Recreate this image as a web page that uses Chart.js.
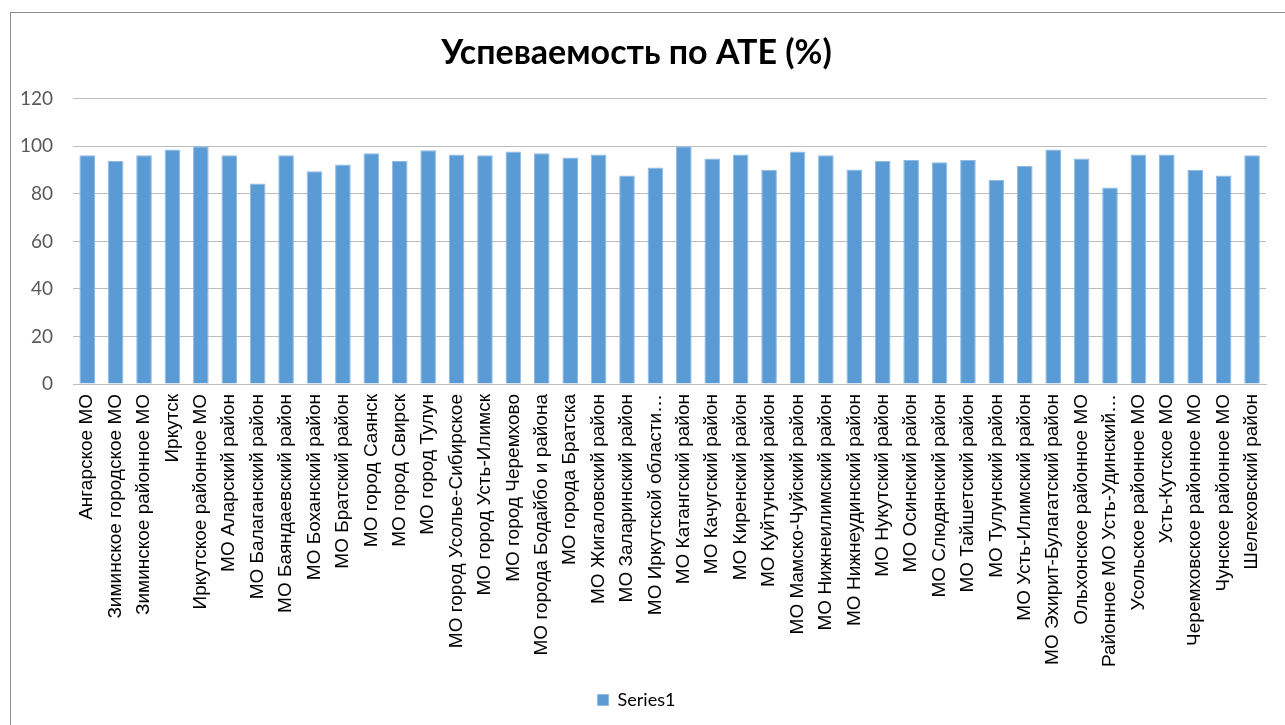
<!DOCTYPE html>
<html>
<head>
<meta charset="utf-8">
<script src="https://cdn.jsdelivr.net/npm/chart.js@4.4.1/dist/chart.umd.min.js"></script>
<style>
  body { margin: 0; background: #fff; }
  #frame { position: absolute; left: 10px; top: 12px; width: 1275px; height: 713px;
           border-top: 1px solid #8c8c8c; border-left: 1px solid #8c8c8c; }
  #chart1 { position: absolute; left: 0; top: 0; }
</style>
</head>
<body>
<div id="frame"></div>
<canvas id="chart1" width="1285" height="725"></canvas>
<script>
var chart1_labels = ['Ангарское МО', 'Зиминское городское МО', 'Зиминское районное МО', 'Иркутск',
  'Иркутское районное МО', 'МО Аларский район', 'МО Балаганский район', 'МО Баяндаевский район',
  'МО Боханский район', 'МО Братский район', 'МО город Саянск', 'МО город Свирск', 'МО город Тулун',
  'МО город Усолье-Сибирское', 'МО город Усть-Илимск', 'МО город Черемхово', 'МО города Бодайбо и района',
  'МО города Братска', 'МО Жигаловский район', 'МО Заларинский район', 'МО Иркутской области…',
  'МО Катангский район', 'МО Качугский район', 'МО Киренский район', 'МО Куйтунский район',
  'МО Мамско-Чуйский район', 'МО Нижнеилимский район', 'МО Нижнеудинский район', 'МО Нукутский район',
  'МО Осинский район', 'МО Слюдянский район', 'МО Тайшетский район', 'МО Тулунский район',
  'МО Усть-Илимский район', 'МО Эхирит-Булагатский район', 'Ольхонское районное МО',
  'Районное МО Усть-Удинский…', 'Усольское районное МО', 'Усть-Кутское МО', 'Черемховское районное МО',
  'Чунское районное МО', 'Шелеховский район']

var chart1_series1 = [96.2, 93.8, 96.2, 98.7, 100, 96.2, 84.4, 96.2, 89.5, 92.4, 97.1, 93.8, 98.3, 96.6,
  96.2, 97.8, 97.1, 95.3, 96.6, 87.7, 91.1, 100, 94.9, 96.6, 90.0, 97.8, 96.2, 90.3,
  93.8, 94.2, 93.3, 94.2, 85.8, 91.7, 98.7, 94.9, 82.7, 96.6, 96.6, 90.0, 87.7, 96.2]

var chart1_yticks = [0, 20, 40, 60, 80, 100, 120]

var chart1 = new Chart(
    document.getElementById('chart1'),
    {
        type: 'bar',
        data: {
            labels: chart1_labels,
            datasets: [
                {
                    label: 'Series1',
                    backgroundColor: '#5b9bd5',
                    borderColor: '#8fbbe4',
                    borderWidth: 1,
                    barPercentage: 0.55,
                    categoryPercentage: 1.0,
                    data: chart1_series1,
                },
            ]
        },
        options: {
            responsive: false,
            animation: false,
            layout: { padding: { left: 0, right: 12, top: 0, bottom: 6 } },
            plugins: {
                title: {
                    display: true,
                    text: 'Успеваемость по АТЕ (%)',
                    color: '#000',
                    font: { family: 'Lato', size: 34, weight: 'bold' },
                    padding: { top: 33, bottom: 25 }
                },
                legend: {
                    position: 'bottom',
                    labels: {
                        color: '#000',
                        font: { family: 'Lato', size: 18 },
                        boxWidth: 11,
                        boxHeight: 11,
                        padding: 10
                    }
                },
                tooltip: { enabled: false }
            },
            scales: {
                x: {
                    grid: { display: false, drawTicks: false },
                    border: { color: '#bfbfbf' },
                    ticks: {
                        color: '#000',
                        font: { family: 'Liberation Sans', size: 19 },
                        minRotation: 90,
                        maxRotation: 90,
                        autoSkip: false,
                        padding: 10
                    },
                    afterFit: function (scale) { scale.height = 297; }
                },
                y: {
                    min: 0,
                    max: 120,
                    afterBuildTicks: function (scale) {
                        scale.ticks = chart1_yticks.map(function (v) { return { value: v }; });
                    },
                    grid: { color: '#bcbcbc', drawTicks: false },
                    border: { display: false },
                    ticks: {
                        color: '#595959',
                        font: { family: 'Lato', size: 19 },
                        padding: 20
                    },
                    afterFit: function (scale) { scale.width = 73; }
                }
            }
        }
    }
);
</script>
</body>
</html>
